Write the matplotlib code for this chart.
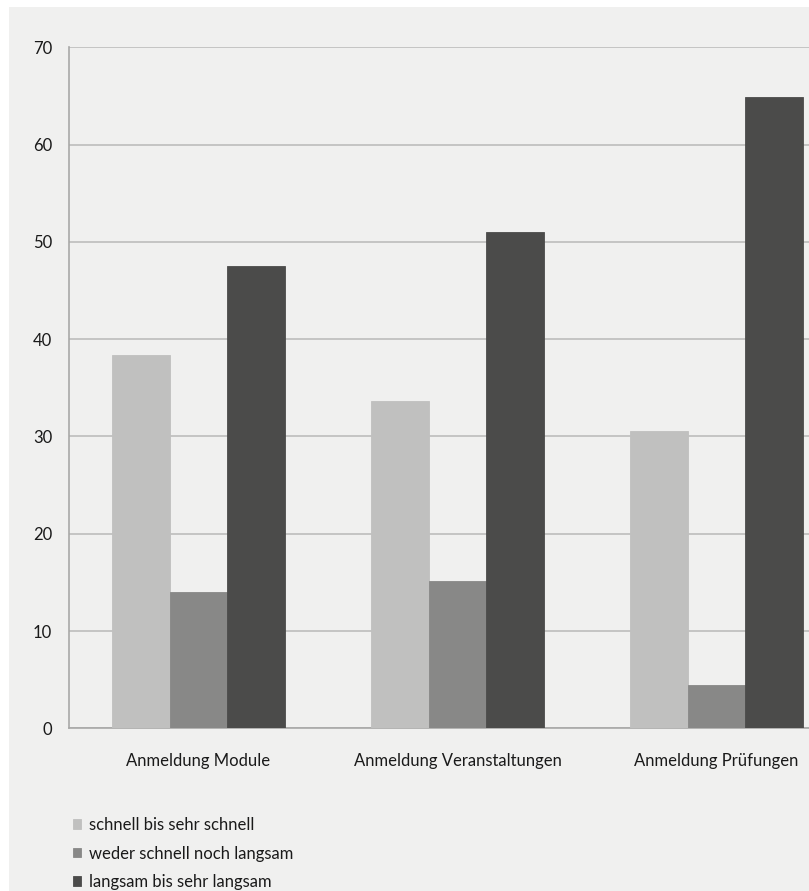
import matplotlib
matplotlib.use("Agg")
import matplotlib.pyplot as plt
import numpy as np
from matplotlib.patches import Rectangle

categories = ["Anmeldung Module", "Anmeldung Veranstaltungen", "Anmeldung Prüfungen"]
series_names = ["schnell bis sehr schnell", "weder schnell noch langsam", "langsam bis sehr langsam"]
schnell = [38.4, 33.6, 30.6]
weder = [14.0, 15.1, 4.4]
langsam = [47.5, 51.0, 64.9]
yticks = [0, 10, 20, 30, 40, 50, 60, 70]

colors = ["#c0c0bf", "#888887", "#4b4b4a"]
bg = "#f0f0ef"
txt = "#1a1a1a"

W, H = 809, 891
plt.rcParams['font.family'] = ['Lato', 'DejaVu Sans']
fig = plt.figure(figsize=(W / 100, H / 100), dpi=100, facecolor="white")
fig.patches.append(Rectangle((9 / W, 0), 1 - 9 / W, (H - 7) / H, transform=fig.transFigure,
                             facecolor=bg, edgecolor="none", zorder=-10))

# axes in pixels: left 69, right 846 (beyond figure), bottom y=728.3, top y=47.3
left, right = 69, 846
bottom_px, top_px = 728.3, 47.3
ax = fig.add_axes([left / W, (H - bottom_px) / H, (right - left) / W, (bottom_px - top_px) / H])
ax.set_facecolor("none")

x = np.arange(len(categories))
bw = 0.222
for i, (vals, c, name) in enumerate(zip([schnell, weder, langsam], colors, series_names)):
    ax.bar(x + (i - 1) * bw, vals, width=bw, color=c, edgecolor=c, linewidth=0.6,
           label=name, zorder=3)

ax.set_xlim(-0.5, 2.5)
ax.set_ylim(0, 70)
ax.set_yticks(yticks)
ax.set_yticklabels([str(t) for t in yticks])
ax.yaxis.grid(True, color="#bdbdbc", linewidth=1.2, zorder=0)
ax.set_axisbelow(True)
for s in ["top", "right"]:
    ax.spines[s].set_visible(False)
ax.spines["left"].set_color("#a8a8a7")
ax.spines["bottom"].set_color("#a8a8a7")
ax.spines["left"].set_linewidth(1.2)
ax.spines["bottom"].set_linewidth(1.2)
ax.tick_params(axis="y", length=0, pad=12, labelsize=12, labelcolor=txt)
ax.tick_params(axis="x", length=0, pad=18, labelsize=12, labelcolor=txt)
ax.set_xticks(x)
ax.set_xticklabels(categories)

handles, labels = ax.get_legend_handles_labels()
fig.legend(handles, labels, loc="upper left", bbox_to_anchor=(73 / W, (H - 817) / H),
           frameon=False, handlelength=0.5, handleheight=0.5, handletextpad=0.45,
           labelspacing=0.75, fontsize=12, borderaxespad=0, borderpad=0,
           labelcolor=txt)

fig.savefig("out.png", dpi=100, facecolor="white")
